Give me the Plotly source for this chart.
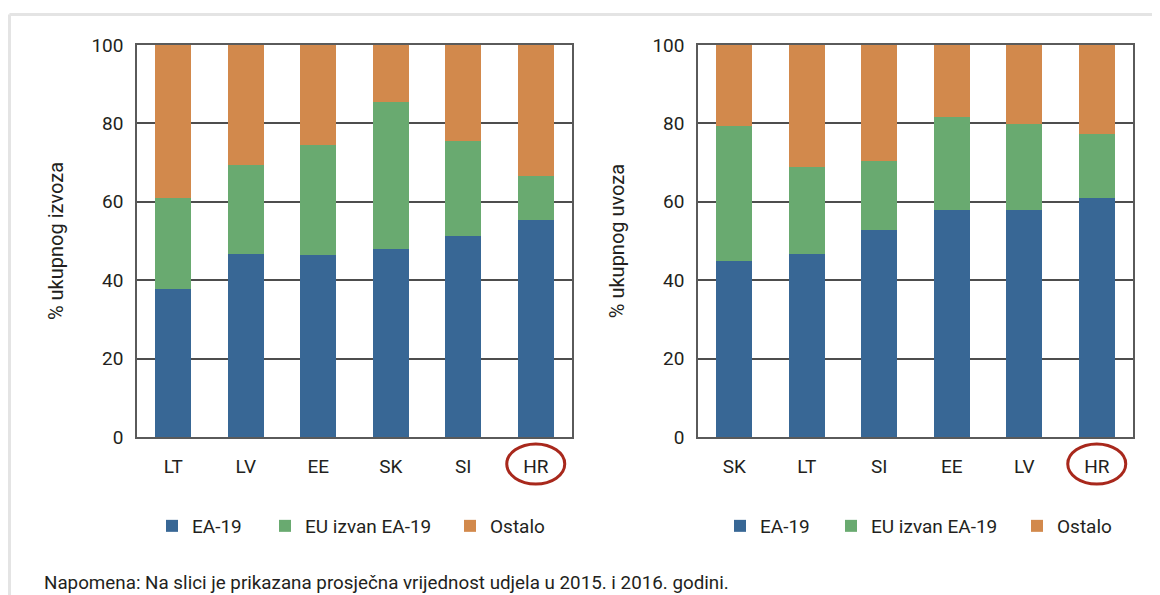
import plotly.graph_objects as go

# Data
series_names = ["EA-19", "EU izvan EA-19", "Ostalo"]
colors = ["#386795", "#69aa70", "#d2894c"]

exp_countries = ["LT", "LV", "EE", "SK", "SI", "HR"]
exp_ea19 = [37.8, 46.7, 46.4, 47.9, 51.4, 55.4]
exp_eu_non_ea = [23.1, 22.7, 28.0, 37.5, 24.2, 11.1]
exp_other = [39.1, 30.6, 25.6, 14.6, 24.4, 33.5]

imp_countries = ["SK", "LT", "SI", "EE", "LV", "HR"]
imp_ea19 = [44.8, 46.6, 52.9, 57.8, 58.0, 61.0]
imp_eu_non_ea = [34.5, 22.4, 17.4, 23.8, 21.8, 16.4]
imp_other = [20.7, 31.0, 29.7, 18.4, 20.2, 22.6]

y_ticks = [0, 20, 40, 60, 80, 100]
y_titles = ["% ukupnog izvoza", "% ukupnog uvoza"]
note = "Napomena: Na slici je prikazana prosječna vrijednost udjela u 2015. i 2016. godini."

# page body has an 8px margin, so the figure is placed at (8, 8)
OFF = 8
W, H = 1152, 587
FONT = "Roboto"
TXT = "#231f20"


def px_x(p):
    return (p - OFF) / W


def px_y(p):
    return 1 - (p - OFF) / H


# legend square left edges (page pixels), per panel
legend_sq_left = [[167, 280, 465], [735, 846, 1032]]

fig = go.Figure()

panels = [
    (exp_countries, [exp_ea19, exp_eu_non_ea, exp_other], "x", "y"),
    (imp_countries, [imp_ea19, imp_eu_non_ea, imp_other], "x2", "y2"),
]
legend_layout = {}
k = 0
for p, (cats, vals, xa, ya) in enumerate(panels):
    for j, (name, v, c) in enumerate(zip(series_names, vals, colors)):
        k += 1
        lname = "legend" if k == 1 else f"legend{k}"
        fig.add_trace(go.Bar(
            x=cats, y=v, name=name, marker=dict(color=c, line=dict(width=0)),
            xaxis=xa, yaxis=ya, legend=lname,
        ))
        legend_layout[lname] = dict(
            orientation="h", x=px_x(legend_sq_left[p][j] - 15), xanchor="left",
            y=px_y(526), yanchor="middle",
            font=dict(family=FONT, size=19, color=TXT), bgcolor="rgba(0,0,0,0)",
        )

ydom = [px_y(437), px_y(45)]
axis_line = dict(showline=True, linecolor="#5a5a5a", linewidth=1.5, mirror=True)

common_x = dict(
    type="category", tickfont=dict(family=FONT, size=19, color=TXT),
    ticks="", ticklabelstandoff=11, showgrid=False, automargin=False, **axis_line,
)
common_y = dict(
    range=[0, 100], tickvals=y_ticks, tickfont=dict(family=FONT, size=19, color=TXT),
    ticks="", ticklabelstandoff=8, showgrid=True, gridcolor="#4d4d4d", gridwidth=1.5,
    zeroline=False, automargin=False, **axis_line,
)

fig.update_layout(
    width=W, height=H,
    margin=dict(l=0, r=0, t=0, b=0),
    paper_bgcolor="white", plot_bgcolor="white",
    barmode="stack", bargap=0.5,
    showlegend=True,
    xaxis=dict(domain=[px_x(137), px_x(572)], anchor="y", **common_x),
    yaxis=dict(domain=ydom, anchor="x",
               title=dict(text=y_titles[0], font=dict(family=FONT, size=20, color=TXT), standoff=22),
               **common_y),
    xaxis2=dict(domain=[px_x(698), px_x(1133)], anchor="y2", **common_x),
    yaxis2=dict(domain=ydom, anchor="x2",
                title=dict(text=y_titles[1], font=dict(family=FONT, size=20, color=TXT), standoff=22),
                **common_y),
    **legend_layout,
)

# Page frame (light grey border top and left)
fig.add_shape(type="line", xref="paper", yref="paper", x0=px_x(9.5), x1=1, y0=px_y(14.5), y1=px_y(14.5),
              line=dict(color="#e4e4e4", width=3))
fig.add_shape(type="line", xref="paper", yref="paper", x0=px_x(9.5), x1=px_x(9.5), y0=px_y(14.5), y1=0,
              line=dict(color="#e4e4e4", width=3))

# Highlight circles around HR
for xa, cats in (("x", exp_countries), ("x2", imp_countries)):
    i = cats.index("HR")
    fig.add_shape(type="circle", xref=xa, yref="paper", x0=i - 0.4, x1=i + 0.4,
                  y0=px_y(484), y1=px_y(444), line=dict(color="#a8281c", width=3))

fig.add_annotation(text=note, xref="paper", yref="paper", x=px_x(42), y=px_y(583),
                   xanchor="left", yanchor="middle", showarrow=False,
                   font=dict(family=FONT, size=18.8, color=TXT))

fig.write_html("out.html")
